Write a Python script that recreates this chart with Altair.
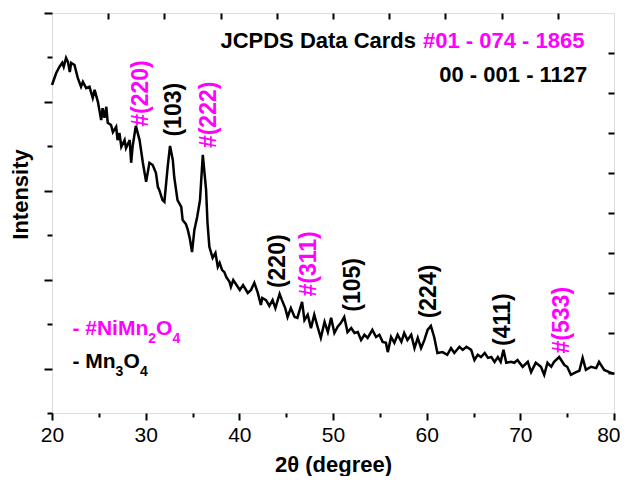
import altair as alt
import pandas as pd

# ---- XRD pattern (2theta in degree, intensity in a.u.) ----
two_theta = [20.0, 20.45, 20.8, 21.1, 21.25, 21.5, 21.7, 21.9, 22.05, 22.4, 22.75, 23.1, 23.3, 23.65, 24.0,
             24.35, 24.55, 24.9, 25.25, 25.4, 25.6, 25.8, 25.95, 26.3, 26.5, 26.85, 27.0, 27.2, 27.4, 27.75,
             27.9, 28.3, 28.45, 28.6, 28.95, 29.35, 29.7, 30.05, 30.4, 30.75, 31.1, 31.3, 31.45, 31.8, 32.0,
             32.35, 32.6, 32.9, 33.05, 33.4, 33.8, 33.95, 34.3, 34.5, 34.7, 34.95, 35.2, 35.5, 35.8, 36.1,
             36.45, 36.6, 36.8, 37.15, 37.45, 37.7, 37.9, 38.15, 38.4, 38.6, 38.95, 39.1, 39.35, 39.7, 40.05,
             40.4, 40.9, 41.25, 41.6, 41.95, 42.3, 42.45, 42.85, 43.2, 43.55, 43.85, 44.3, 44.55, 44.9, 45.15,
             45.5, 45.9, 46.2, 46.5, 46.7, 46.95, 47.3, 47.65, 48.0, 48.35, 48.7, 49.1, 49.45, 49.8, 50.15,
             50.5, 50.85, 51.2, 51.55, 51.95, 52.3, 52.65, 53.0, 53.35, 53.7, 54.2, 54.6, 54.95, 55.3, 55.65,
             55.85, 56.2, 56.55, 56.9, 57.3, 57.6, 57.95, 58.35, 58.7, 59.05, 59.4, 59.75, 60.1, 60.45, 60.8,
             61.15, 61.7, 62.2, 62.6, 62.95, 63.5, 63.85, 64.25, 64.75, 65.1, 65.45, 65.8, 66.2, 66.55, 66.9,
             67.25, 67.6, 67.9, 68.2, 68.5, 69.0, 69.35, 69.7, 70.25, 70.8, 71.15, 71.65, 72.2, 72.55, 72.9,
             73.3, 73.6, 74.15, 74.7, 75.0, 75.4, 75.95, 76.3, 76.65, 77.0, 77.55, 78.1, 78.4, 78.95, 79.5,
             80.0]
intensity = [738, 765, 779, 788, 779, 799, 790, 767, 788, 783, 754, 734, 745, 731, 734,
             709, 727, 700, 659, 686, 664, 689, 653, 648, 632, 644, 614, 630, 599, 614,
             596, 614, 563, 599, 646, 614, 563, 520, 563, 558, 540, 509, 502, 479, 475,
             554, 601, 569, 531, 479, 464, 434, 425, 412, 394, 362, 412, 441, 479, 581,
             502, 428, 374, 349, 360, 329, 338, 322, 317, 306, 295, 284, 299, 288, 277,
             288, 270, 277, 293, 272, 243, 259, 254, 241, 254, 236, 268, 254, 236, 216,
             236, 216, 214, 236, 250, 209, 221, 191, 221, 194, 169, 205, 182, 214, 180,
             194, 203, 216, 182, 191, 180, 182, 164, 176, 169, 187, 171, 176, 160, 158,
             137, 171, 158, 176, 160, 180, 164, 176, 146, 169, 146, 164, 187, 196, 171,
             135, 137, 131, 146, 135, 149, 142, 149, 142, 119, 131, 126, 135, 124, 126,
             115, 126, 115, 142, 113, 115, 113, 119, 104, 115, 92, 113, 104, 86, 113,
             104, 115, 126, 108, 104, 86, 92, 95, 124, 97, 104, 101, 115, 97, 92,
             88]

# ---- peak labels ----
peak_labels = ["#(220)", "(103)", "#(222)", "(220)", "#(311)", "(105)", "(224)", "(411)", "#(533)"]
peak_pos = [29.5, 33.07, 36.8, 44.1, 47.48, 52.18, 60.29, 68.1, 74.5]
peak_level = [644, 622, 596, 281, 262, 228, 213, 151, 134]
peak_color = ["#FF00FF", "black", "#FF00FF", "black", "#FF00FF", "black", "black", "black", "#FF00FF"]

# ---- axis ticks ----
x_ticks = list(range(20, 85, 5))
x_top_ticks = [26, 32, 38, 44, 50, 56, 62, 68, 74]
y_ticks = [0, 100, 200, 300, 400, 500, 600, 700, 800, 900]
y_right_ticks = [90, 180, 270, 360, 450, 540, 630, 720, 810]

FONT = "Liberation Sans"
MAG = "#FF00FF"

df = pd.DataFrame({"two_theta": two_theta, "intensity": intensity})
xs = alt.Scale(domain=[20, 80], nice=False, zero=False)
ys = alt.Scale(domain=[0, 900], nice=False, zero=False)

line = alt.Chart(df).mark_line(color="black", strokeWidth=2.5).encode(
    x=alt.X("two_theta:Q", scale=xs, axis=alt.Axis(
        values=x_ticks, orient="bottom", domain=False, grid=False,
        tickColor="black", tickWidth=2,
        tickSize={"condition": {"test": "datum.value % 10 == 0", "value": 7}, "value": 4},
        labelExpr="datum.value % 10 == 0 ? datum.label : ''",
        labelFlush=False, labelOverlap=False, labelBound=False,
        labelAlign={"condition": {"test": "datum.value == 80", "value": "right"}, "value": "center"},
        labelOffset={"condition": {"test": "datum.value == 80", "value": 6}, "value": 0},
        labelFont=FONT, labelFontSize=21, labelColor="black", labelPadding=4,
        title="2θ (degree)", titleFont=FONT, titleFontSize=22, titleFontWeight="bold",
        titleColor="black", titleX=281, titleY=58, titleBaseline="alphabetic", titleAlign="center")),
    y=alt.Y("intensity:Q", scale=ys, axis=alt.Axis(
        values=y_ticks, orient="left", domain=False, grid=False, labels=False,
        tickColor="black", tickWidth=2,
        tickSize={"condition": {"test": "datum.value % 200 == 100", "value": 8}, "value": 5},
        title="Intensity", titleFont=FONT, titleFontSize=22, titleFontWeight="bold",
        titleColor="black", titleX=-32, titleY=181, titleAngle=270,
        titleBaseline="middle", titleAlign="center")),
)

mirror = alt.Chart(df).mark_line(opacity=0).encode(
    x=alt.X("two_theta:Q", scale=xs, axis=alt.Axis(
        values=x_top_ticks, orient="top", domain=False, grid=False, labels=False, title=None,
        tickColor="black", tickWidth=2, tickSize={"expr": "-6"})),
    y=alt.Y("intensity:Q", scale=ys, axis=alt.Axis(
        values=y_right_ticks, orient="right", domain=False, grid=False, labels=False, title=None,
        tickColor="black", tickWidth=2, tickSize={"expr": "-6"})),
)

peaks_df = pd.DataFrame({"x": peak_pos, "y": peak_level, "t": peak_labels, "c": peak_color})
peaks = alt.Chart(peaks_df).mark_text(
    angle=270, align="left", baseline="middle", font=FONT, fontSize=23, fontWeight="bold"
).encode(
    x=alt.X("x:Q", scale=xs, axis=None),
    y=alt.Y("y:Q", scale=ys, axis=None),
    text="t:N",
    color=alt.Color("c:N", scale=None),
)


def label(text, x, y, color, size, align="left", dx=0, baseline="alphabetic"):
    d = pd.DataFrame({"x": [x], "y": [y], "t": [text]})
    return alt.Chart(d).mark_text(
        align=align, baseline=baseline, dx=dx, font=FONT, fontSize=size,
        fontWeight="bold", color=color
    ).encode(
        x=alt.X("x:Q", scale=xs, axis=None),
        y=alt.Y("y:Q", scale=ys, axis=None),
        text="t:N",
    )


card_x = 59.24
cards = [
    label("JCPDS Data Cards", card_x, 837, "black", 22, align="right", dx=-3.5, baseline="middle"),
    label("#01 - 074 - 1865", card_x, 837, MAG, 22, align="left", dx=3.5, baseline="middle"),
    label("00 - 001 - 1127", 77.15, 760, "black", 22, align="right", baseline="middle"),
]

leg_x = 22.18
legend = [
    label("- #NiMn", leg_x, 175, MAG, 21),
    label("2", leg_x, 157, MAG, 14, dx=75.8),
    label("O", leg_x, 175, MAG, 21, dx=83.6),
    label("4", leg_x, 157, MAG, 14, dx=100),
    label("- Mn", leg_x, 101, "black", 21),
    label("3", leg_x, 83, "black", 14, dx=43.2),
    label("O", leg_x, 101, "black", 21, dx=51),
    label("4", leg_x, 83, "black", 14, dx=67.5),
]

chart = alt.layer(line, mirror, peaks, *cards, *legend).resolve_axis(
    x="independent", y="independent"
).properties(
    width=562, height=400,
    padding={"left": 44, "top": 5, "right": 6, "bottom": 63},
    autosize=alt.AutoSizeParams(type="none"),
).configure_view(
    stroke="black", strokeWidth=2
).configure(background="white")

chart.save("out.html", embed_options={"renderer": "svg", "actions": False})
